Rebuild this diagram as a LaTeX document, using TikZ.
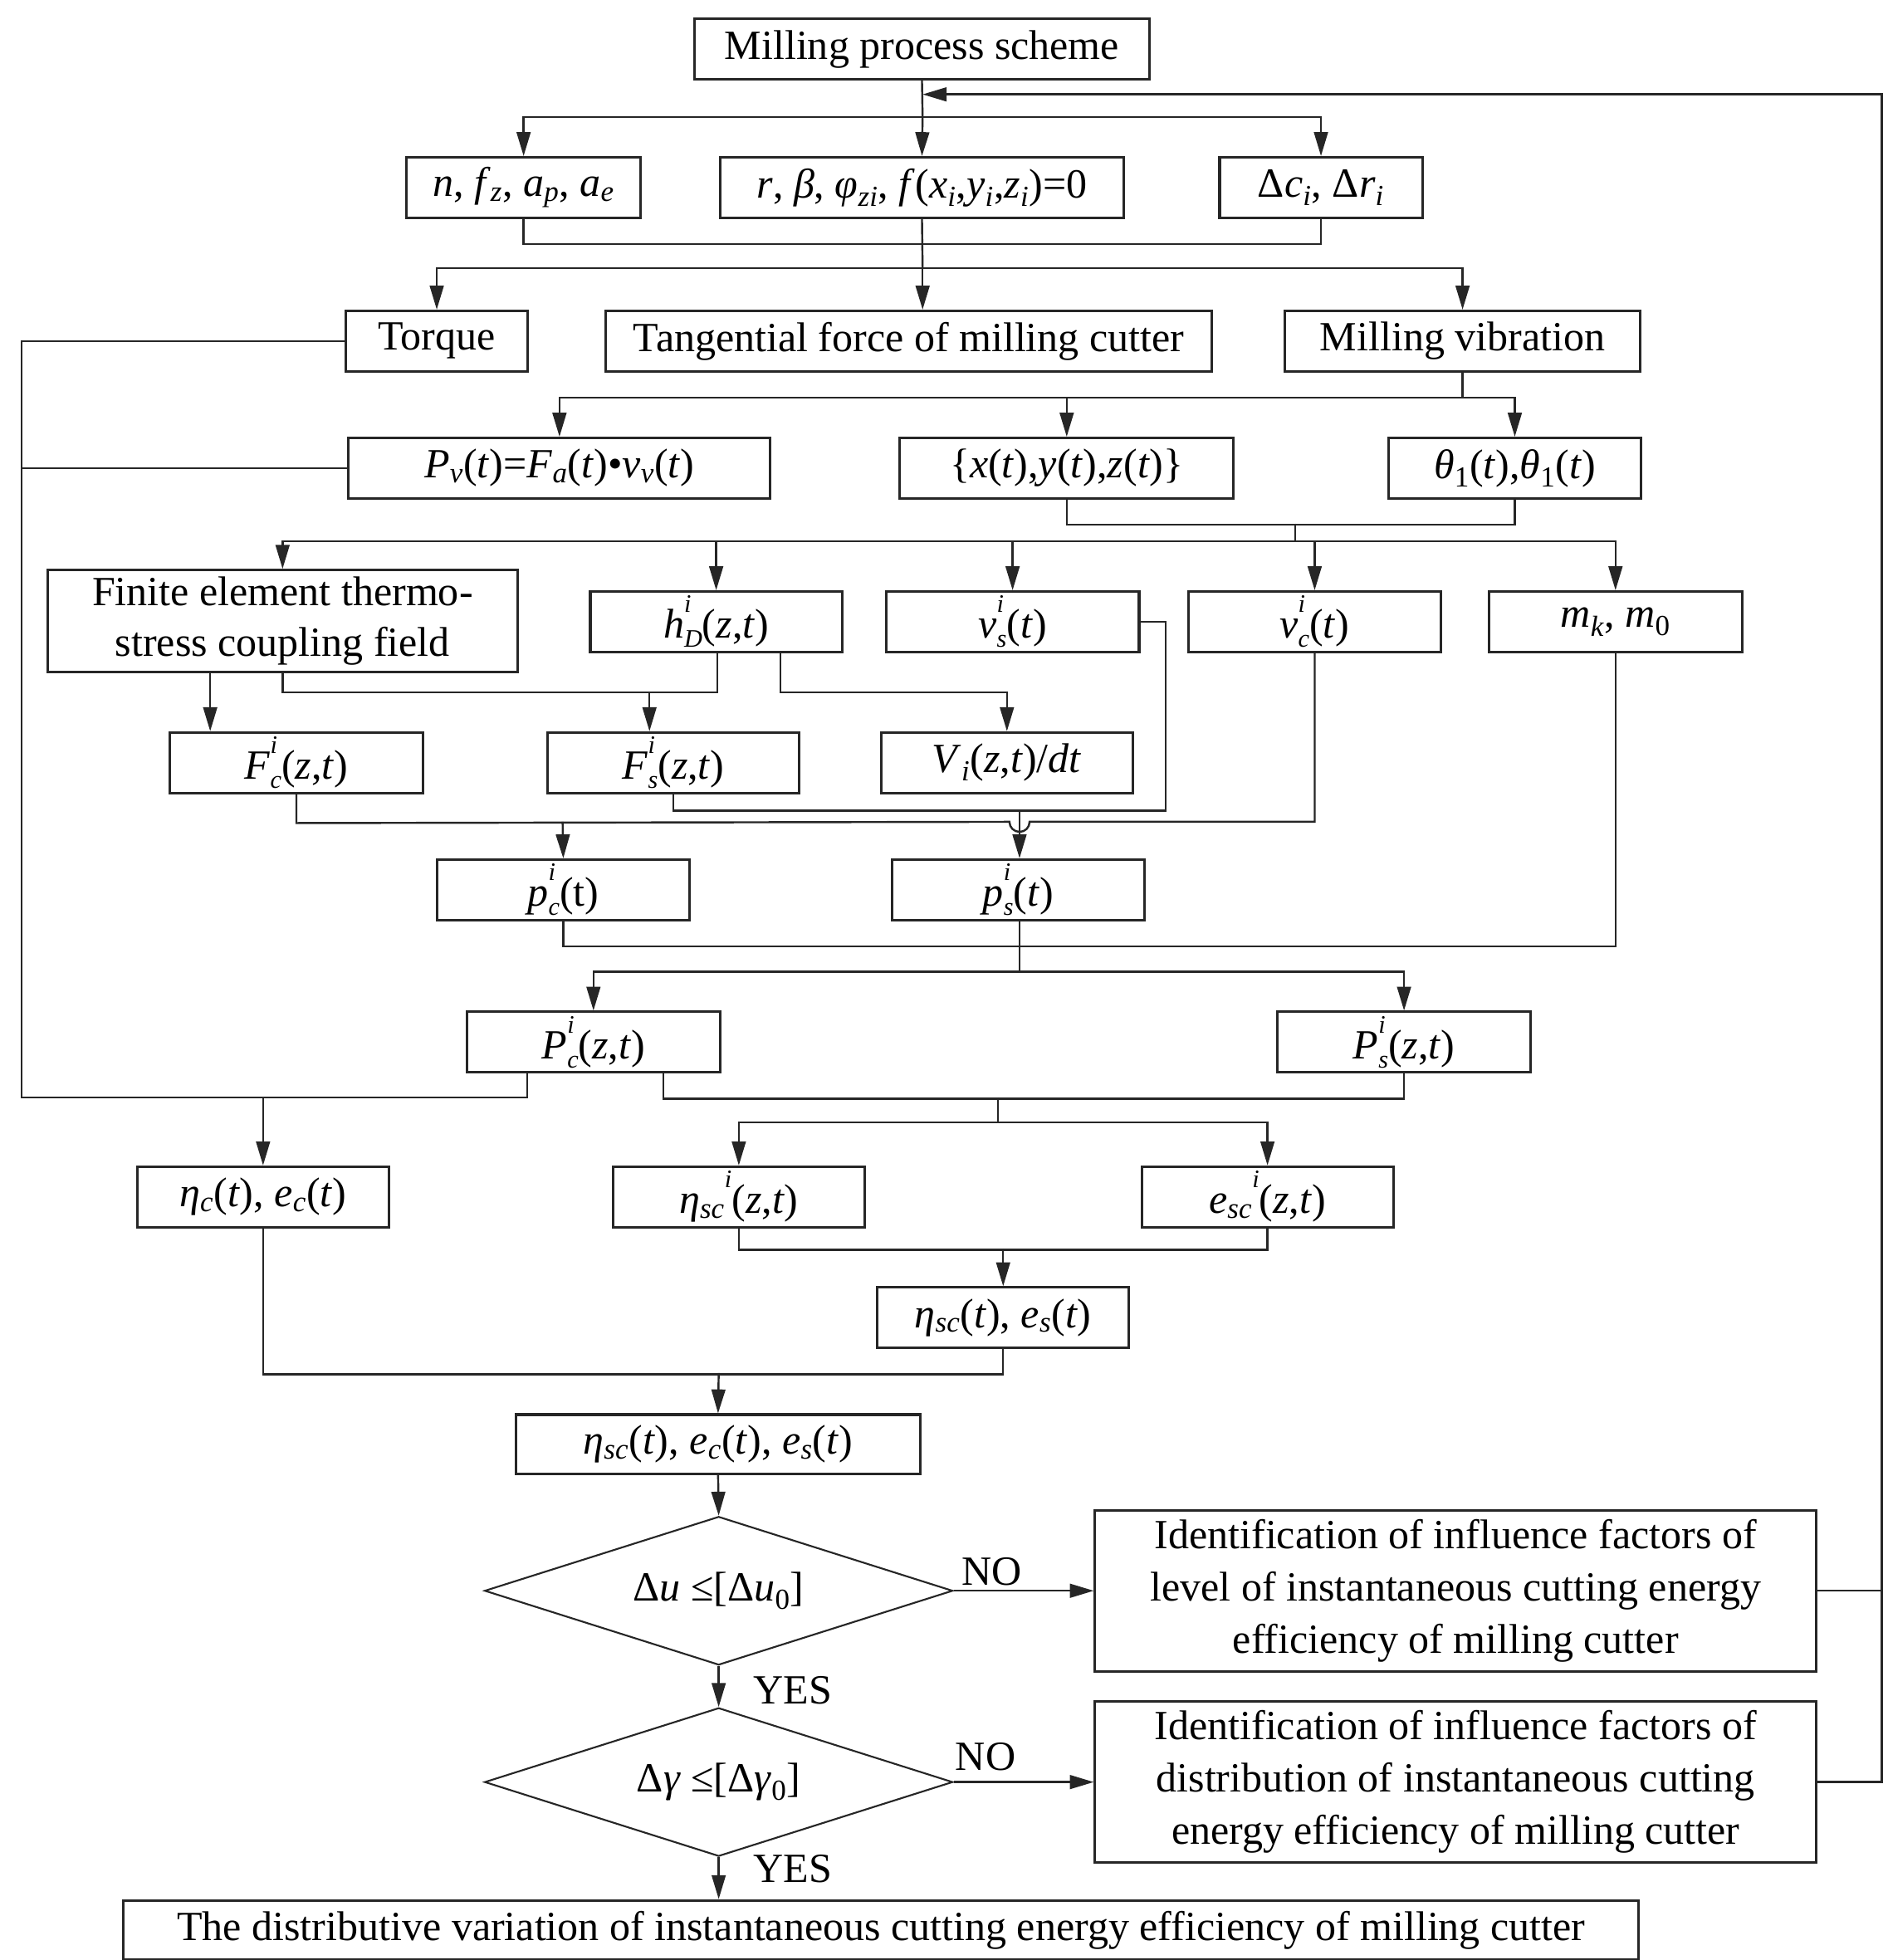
\documentclass[tikz,border=0pt]{standalone}
\usepackage{fontspec}
\setmainfont{Liberation Serif}
\usetikzlibrary{arrows.meta,shapes.geometric}
\newcommand\fs{\fontsize{33pt}{40pt}\selectfont}
\newcommand\iv[1]{\textit{#1}}
\newcommand\sbi[1]{\textsubscript{\textit{#1}}}
\newcommand\spi[1]{\raisebox{0.62em}{\fontsize{20pt}{20pt}\selectfont\textit{#1}}}
\newcommand\ssi[2]{\rlap{\raisebox{0.62em}{\fontsize{20pt}{20pt}\selectfont\textit{#1}}}\raisebox{-0.22em}{\fontsize{20pt}{20pt}\selectfont\textit{#2}}}
\begin{document}
\begin{tikzpicture}[x=1pt,y=-1pt,
  box/.style={draw=black!85,line width=2pt,minimum height=48pt,inner sep=0pt,align=center,font=\fs},
  conn/.style={draw=black!85,line width=1.6pt},
  arr/.style={conn,-{Triangle[length=19pt,width=11pt]}},
  dia/.style={diamond,aspect=3.15,draw=black!85,line width=1.4pt,minimum width=372pt,minimum height=118pt,inner sep=0pt,font=\fs},
  lbl/.style={font=\fs,inner sep=0pt}]
\useasboundingbox (0,0) rectangle (1500,1557.4);

% nodes
\node[box,minimum width=361pt] (mps) at (732.5,39) {Milling process scheme};
\node[box,minimum width=186pt] (nf) at (416,149) {\iv{n}, \iv{f}\sbi{z}, \iv{a}\sbi{p}, \iv{a}\sbi{e}};
\node[box,minimum width=321pt] (rb) at (732.5,149) {\iv{r}, \iv{β}, \iv{φ}\sbi{zi}, \iv{f}(\iv{x}\sbi{i},\iv{y}\sbi{i},\iv{z}\sbi{i})=0};
\node[box,minimum width=161pt] (dc) at (1049.5,149) {Δ\iv{c}\sbi{i}, Δ\iv{r}\sbi{i}};

\node[box,minimum width=144pt] (tq) at (347,271) {Torque};
\node[box,minimum width=482pt] (tf) at (722,271) {Tangential force of milling cutter};
\node[box,minimum width=282pt] (mv) at (1162,271) {Milling vibration};

\node[box,minimum width=335pt] (Pv) at (444.5,372) {\iv{P}\sbi{v}(\iv{t})=\iv{F}\sbi{a}(\iv{t})•\iv{v}\sbi{v}(\iv{t})};
\node[box,minimum width=265pt] (xyz) at (847.5,372) {\{\iv{x}(\iv{t}),\iv{y}(\iv{t}),\iv{z}(\iv{t})\}};
\node[box,minimum width=200pt] (th) at (1203.5,372) {\iv{θ}\textsubscript{1}(\iv{t}),\iv{θ}\textsubscript{1}(\iv{t})};

\node[box,minimum width=373pt,minimum height=81pt] (fe) at (224.5,493.5) {Finite element thermo-\\stress coupling field};
\node[box,minimum width=200pt] (hd) at (569,494) {\iv{h}\ssi{i}{D}(\iv{z},\iv{t})};
\node[box,minimum width=201pt] (vs) at (804.5,494) {\iv{v}\ssi{i}{s}(\iv{t})};
\node[box,minimum width=201pt] (vc) at (1044.5,494) {\iv{v}\ssi{i}{c}(\iv{t})};
\node[box,minimum width=201pt] (mk) at (1283.5,494) {\iv{m}\sbi{k}, \iv{m}\textsubscript{0}};

\node[box,minimum width=201pt] (Fc) at (235.5,606) {\iv{F}\ssi{i}{c}(\iv{z},\iv{t})};
\node[box,minimum width=200pt] (Fs) at (535,606) {\iv{F}\ssi{i}{s}(\iv{z},\iv{t})};
\node[box,minimum width=200pt] (Vi) at (800,606) {\iv{V}\sbi{i}(\iv{z},\iv{t})/\iv{dt}};

\node[box,minimum width=201pt] (pc) at (447.5,707) {\iv{p}\ssi{i}{c}(t)};
\node[box,minimum width=201pt] (ps) at (809,707) {\iv{p}\ssi{i}{s}(\iv{t})};

\node[box,minimum width=201pt] (Pc) at (471.5,828) {\iv{P}\ssi{i}{c}(\iv{z},\iv{t})};
\node[box,minimum width=201pt] (Ps) at (1115.5,828) {\iv{P}\ssi{i}{s}(\iv{z},\iv{t})};

\node[box,minimum width=200pt] (etac) at (209,951) {\iv{η}\sbi{c}(\iv{t}), \iv{e}\sbi{c}(\iv{t})};
\node[box,minimum width=200pt] (etasci) at (587,951) {\iv{η}\sbi{sc}\spi{i}(\iv{z},\iv{t})};
\node[box,minimum width=200pt] (esci) at (1007,951) {\iv{e}\sbi{sc}\spi{i}(\iv{z},\iv{t})};

\node[box,minimum width=200pt] (etas) at (797,1047) {\iv{η}\sbi{sc}(\iv{t}), \iv{e}\sbi{s}(\iv{t})};
\node[box,minimum width=321pt,minimum height=47pt] (all) at (570.5,1147.5) {\iv{η}\sbi{sc}(\iv{t}), \iv{e}\sbi{c}(\iv{t}), \iv{e}\sbi{s}(\iv{t})};

\node[dia] (d1) at (571,1264) {Δ\iv{u} ≤[Δ\iv{u}\textsubscript{0}]};
\node[dia] (d2) at (571,1416) {Δ\iv{γ} ≤[Δ\iv{γ}\textsubscript{0}]};
\node[box,minimum width=573pt,minimum height=128pt,font=\fontsize{33pt}{41.5pt}\selectfont] (id1) at (1156.5,1264) {Identification of influence factors of\\level of instantaneous cutting energy\\efficiency of milling cutter};
\node[box,minimum width=573pt,minimum height=128pt,font=\fontsize{33pt}{41.5pt}\selectfont] (id2) at (1156.5,1416) {Identification of influence factors of\\distribution of instantaneous cutting\\energy efficiency of milling cutter};
\node[box,minimum width=1204pt,minimum height=47pt] (fin) at (700,1533.5) {The distributive variation of instantaneous cutting energy efficiency of milling cutter};

\node[lbl] (no1) at (788,1249) {NO};
\node[lbl] (yes1) at (630,1343) {YES};
\node[lbl] (no2) at (783,1396) {NO};
\node[lbl] (yes2) at (630,1485) {YES};

% coordinates
\coordinate (j1) at (733,93);
\coordinate (fbtop) at (1495,75);
\coordinate (fbin) at (733,75);
\coordinate (j2) at (733,213);
\coordinate (L2) at (17,872);
\coordinate (j3) at (1162,316);
\coordinate (j4) at (1029,430);
\coordinate (j5) at (570,550);
\coordinate (j5a) at (516,550);
\coordinate (j6) at (810,644);
\coordinate (j6a) at (447,653);
\coordinate (j7) at (810,772);
\coordinate (j8) at (793,892);
\coordinate (j9) at (797,992);
\coordinate (j10) at (571,1091);

% connectors
\draw[conn] (mps.south) -- (j1);
\draw[arr] (j1) -| (nf.north);
\draw[arr] (j1) -- (rb.north);
\draw[arr] (j1) -| (dc.north);
\draw[arr] (id2.east) -| (fbtop) -- (fbin);
\draw[conn] (id1.east) -- (id1.east -| fbtop);

\draw[conn] (nf.south) -- ++(0,20) -| (dc.south);
\draw[conn] (rb.south) -- (j2);
\draw[arr] (j2) -| (tq.north);
\draw[arr] (j2) -- (j2 |- tf.north);
\draw[arr] (j2) -| (mv.north);

\draw[conn] (tq.west) -| (L2) -| ([xshift=-52.5pt]Pc.south);
\draw[conn] (Pv.west) -- (Pv.west -| L2);
\draw[arr] (etac.north |- L2) -- (etac.north);

\draw[conn] (mv.south) -- (j3);
\draw[arr] (j3) -| (Pv.north);
\draw[arr] (j3) -| (xyz.north);
\draw[arr] (j3) -| (th.north);

\draw[conn] (xyz.south) -- ++(0,20) -| (th.south);
\draw[conn] (j4 |- 0,416) -- (j4);
\draw[arr] (j4) -| (fe.north);
\draw[arr] (j4) -| (hd.north);
\draw[arr] (j4) -| (vs.north);
\draw[arr] (j4) -| (vc.north);
\draw[arr] (j4) -| (mk.north);

\draw[arr] ([xshift=-57.5pt]fe.south) -- ([xshift=-57.5pt]fe.south |- Fc.north);
\draw[conn] (fe.south) |- (j5) -- (j5 |- hd.south);
\draw[arr] (j5a) -- (j5a |- Fs.north);
\draw[arr] ([xshift=51pt]hd.south) -- ++(0,31) -| (Vi.north);
\draw[conn] (vs.east) -- ++(20,0) -- ++(0,150) -| (Fs.south);

\draw[conn] (Fc.south) -- ++(0,23) -- (802,653) arc[start angle=180,end angle=360,radius=8pt] -- (vc.south |- j6a) -- (vc.south);
\draw[arr] (j6a) -- (pc.north);
\draw[arr] (j6) -- (j6 |- ps.north);

\draw[conn] (pc.south) -- ++(0,20) -| (mk.south);
\draw[conn] (j6 |- ps.south) -- (j7);
\draw[arr] (j7) -| (Pc.north);
\draw[arr] (j7) -| (Ps.north);

\draw[conn] ([xshift=55.5pt]Pc.south) -- ++(0,20) -| (Ps.south);
\draw[conn] (j8 |- L2) -- (j8);
\draw[arr] (j8) -| (etasci.north);
\draw[arr] (j8) -| (esci.north);

\draw[conn] (etasci.south) -- ++(0,17) -| (esci.south);
\draw[arr] (j9) -- (etas.north);
\draw[conn] (etac.south) -- ++(0,116) -| (etas.south);
\draw[arr] (j10) -- (all.north);

\draw[arr] (all.south) -- (d1.north);
\draw[arr] (d1.east) -- (id1.west);
\draw[arr] (d1.south) -- (d2.north);
\draw[arr] (d2.east) -- (id2.west);
\draw[arr] (d2.south) -- (d2.south |- fin.north);
\end{tikzpicture}
\end{document}
